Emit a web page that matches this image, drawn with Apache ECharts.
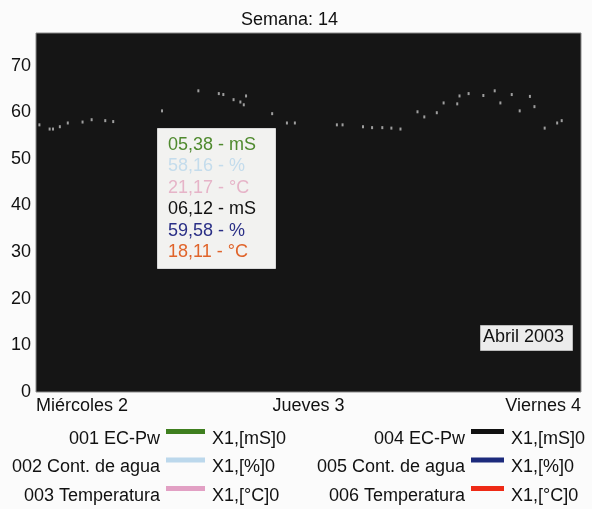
<!DOCTYPE html>
<html>
<head>
<meta charset="utf-8">
<script src="https://cdn.jsdelivr.net/npm/echarts@6/dist/echarts.min.js"></script>
<style>
html, body { margin: 0; padding: 0; background: #fbfbfb; }
#main { width: 592px; height: 509px; }
</style>
</head>
<body>
<div id="main"></div>
<script>
// eje x: horas desde Miércoles 2 00:00
var dayLabels = ['Miércoles 2', 'Jueves 3', 'Viernes 4'];
var yTicks = [0, 10, 20, 30, 40, 50, 60, 70];

// puntos visibles (hora, valor)
var hours = [0.3, 1.2, 1.5, 2.1, 2.8, 4.1, 4.9, 6.1, 6.8, 11.1, 14.3, 16.1, 16.5, 17.4, 18.0, 18.5, 18.3, 20.8, 22.1, 22.8,
  26.5, 27.0, 28.8, 29.6, 30.5, 31.3, 32.1, 33.6, 34.2, 35.3, 35.9, 37.1, 37.3, 38.1, 39.4, 40.4, 40.9, 41.9, 42.6, 43.5, 43.9, 44.8, 45.9, 46.3];
var values = [57.3, 56.4, 56.4, 56.9, 57.7, 57.9, 58.4, 58.2, 58.0, 60.3, 64.6, 64.0, 63.8, 62.7, 62.2, 63.5, 61.6, 59.7, 57.7, 57.7,
  57.3, 57.3, 56.9, 56.7, 56.7, 56.6, 56.4, 60.1, 59.0, 59.9, 62.0, 61.8, 63.5, 64.0, 63.6, 64.6, 62.0, 63.8, 60.3, 63.4, 61.2, 56.6, 57.7, 58.2];

// lectura del cursor
var readText = ['05,38 - mS', '58,16 - %', '21,17 - °C', '06,12 - mS', '59,58 - %', '18,11 - °C'];
var readColor = ['#4f8a2e', '#c4dcec', '#e6b4c8', '#111111', '#2a2f86', '#e0642a'];

// leyenda
var seriesNames = ['001 EC-Pw', '002 Cont. de agua', '003 Temperatura', '004 EC-Pw', '005 Cont. de agua', '006 Temperatura'];
var seriesUnits = ['X1,[mS]0', 'X1,[%]0', 'X1,[°C]0', 'X1,[mS]0', 'X1,[%]0', 'X1,[°C]0'];
var seriesColors = ['#3f7f1f', '#bcd8ec', '#e2a0c4', '#111111', '#1c2a7c', '#ee2a16'];

var font = 'Liberation Sans, Arial, sans-serif';

var points = hours.map(function (h, i) { return [h, values[i]]; });

var graphics = [];
// caja de lectura
graphics.push({
  type: 'rect', left: 157, top: 128, shape: { width: 118, height: 140 },
  style: { fill: '#f2f2f0', stroke: '#d8d8d8', lineWidth: 1 }
});
readText.forEach(function (t, i) {
  graphics.push({
    type: 'text', left: 168, top: 136 + i * 21.4,
    style: { text: t, fill: readColor[i], font: '18px ' + font }
  });
});
// Abril 2003
graphics.push({
  type: 'rect', left: 480, top: 325, shape: { width: 92, height: 25 },
  style: { fill: '#ececec', stroke: '#bbbbbb', lineWidth: 1 }
});
graphics.push({
  type: 'text', left: 483, top: 328,
  style: { text: 'Abril 2003', fill: '#111', font: '18px ' + font }
});
// leyenda manual
seriesNames.forEach(function (n, i) {
  var col = Math.floor(i / 3), row = i % 3;
  var nameRight = col === 0 ? 160 : 465;
  var unitLeft = col === 0 ? 212 : 511;
  var y = 430 + row * 28.5;
  graphics.push({
    type: 'text', right: 592 - nameRight, top: y,
    style: { text: n, fill: '#111', font: '18px ' + font }
  });
  graphics.push({
    type: 'rect', left: nameRight + 6, top: y - 1, shape: { width: unitLeft - nameRight - 13, height: 5 },
    style: { fill: seriesColors[i] }
  });
  graphics.push({
    type: 'text', left: unitLeft, top: y,
    style: { text: seriesUnits[i], fill: '#111', font: '18px ' + font }
  });
});

var chart = echarts.init(document.getElementById('main'));
chart.setOption({
  backgroundColor: '#fbfbfb',
  animation: false,
  title: {
    text: 'Semana: 14', left: 236, top: 6,
    textStyle: { fontFamily: font, fontSize: 18, fontWeight: 'normal', color: '#111' }
  },
  grid: {
    left: 36, right: 11, top: 33, bottom: 117,
    show: true, backgroundColor: '#151515', borderColor: '#8a8a8a', borderWidth: 1
  },
  xAxis: {
    type: 'value', min: 0, max: 48, interval: 24,
    axisLine: { show: false }, axisTick: { show: false }, splitLine: { show: false },
    axisLabel: {
      fontFamily: font, fontSize: 18, color: '#111', margin: 5,
      alignMinLabel: 'left', alignMaxLabel: 'right',
      formatter: function (v) { return dayLabels[Math.round(v / 24)]; }
    }
  },
  yAxis: {
    type: 'value', min: 0, max: 77, interval: 10,
    axisLine: { show: false }, axisTick: { show: false }, splitLine: { show: false },
    axisLabel: {
      fontFamily: font, fontSize: 18, color: '#111', margin: 5,
      formatter: function (v) { return yTicks.indexOf(v) >= 0 ? String(v) : ''; }
    }
  },
  series: [{
    type: 'scatter', name: 'EC-Pw', data: points,
    symbol: 'rect', symbolSize: [2, 3],
    itemStyle: { color: '#c0c0c0' }
  }],
  graphic: graphics
});
</script>
</body>
</html>
